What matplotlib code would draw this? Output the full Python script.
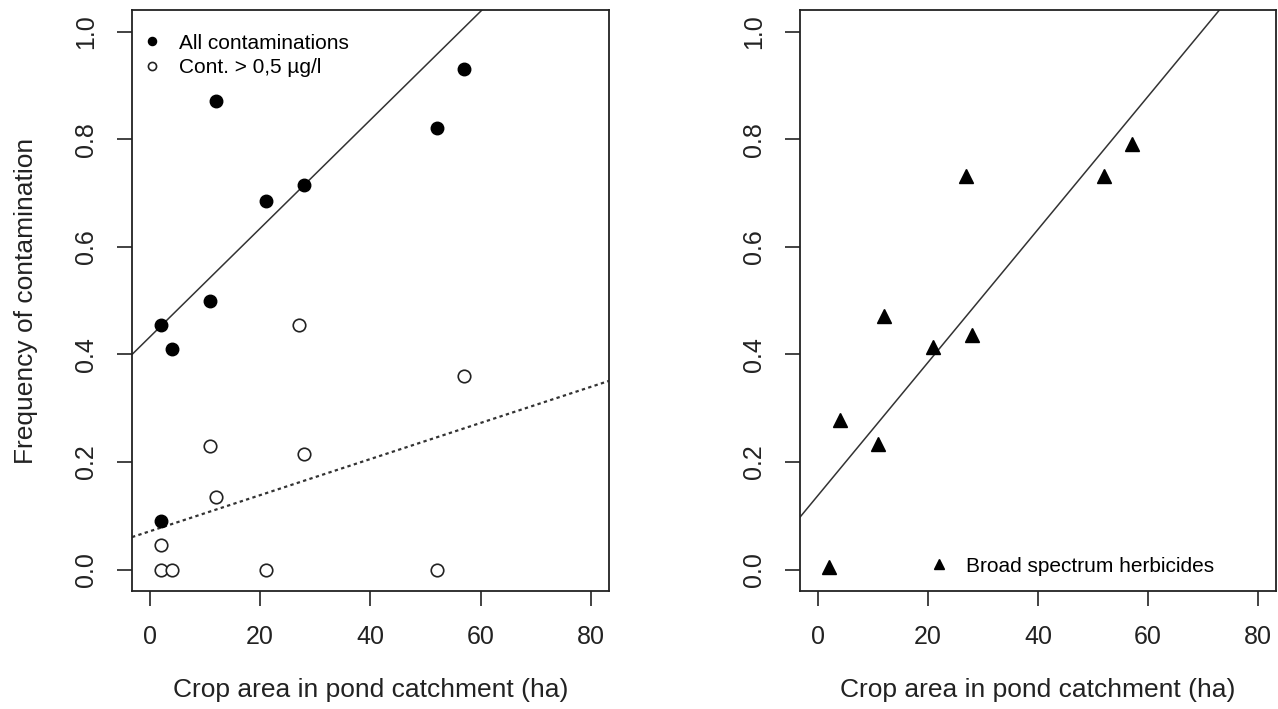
import numpy as np
import matplotlib
matplotlib.use("Agg")
import matplotlib.pyplot as plt

plt.rcParams["font.family"] = ["Liberation Sans", "DejaVu Sans"]

# Left panel: frequency of contamination per pond
area_all = [2, 4, 11, 12, 21, 28, 52, 57, 2]
freq_all = [0.455, 0.41, 0.50, 0.87, 0.685, 0.715, 0.82, 0.93, 0.09]

area_high = [27, 57, 11, 28, 12, 2, 2, 4, 21, 52]
freq_high = [0.455, 0.36, 0.23, 0.215, 0.135, 0.045, 0.0, 0.0, 0.0, 0.0]

# regression lines (intercept, slope)
fit_all = (0.432, 0.0101)
fit_high = (0.071, 0.00336)

# Right panel: broad spectrum herbicides
area_herb = [2, 4, 11, 12, 21, 27, 28, 52, 57]
freq_herb = [0.004, 0.278, 0.233, 0.472, 0.414, 0.731, 0.435, 0.731, 0.791]
fit_herb = (0.137, 0.01238)

xticks = [0, 20, 40, 60, 80]
yticks = [0.0, 0.2, 0.4, 0.6, 0.8, 1.0]
xlim = (-3.2, 83.2)
ylim = (-0.04, 1.04)

fig = plt.figure(figsize=(12.78, 7.09), dpi=100)
ax1 = fig.add_axes([0.1033, 0.1664, 0.3732, 0.8195])
ax2 = fig.add_axes([0.626, 0.1664, 0.3724, 0.8195])

TICK_FS = 18
LAB_FS = 19
LEG_FS = 15
INK = "#222222"


def style(ax):
    ax.set_xlim(*xlim)
    ax.set_ylim(*ylim)
    ax.set_xticks(xticks)
    ax.set_yticks(yticks)
    ax.set_yticklabels([f"{v:.1f}" for v in yticks])
    ax.tick_params(direction="out", length=10.5, width=1.2, labelsize=TICK_FS,
                   pad=14, color=INK, labelcolor=INK)
    for lab in ax.get_yticklabels():
        lab.set_rotation(90)
        lab.set_va("center")
    for s in ax.spines.values():
        s.set_linewidth(1.3)
        s.set_color(INK)
    ax.set_xlabel("Crop area in pond catchment (ha)", fontsize=LAB_FS, color=INK)
    ax.xaxis.label.set_va("center")
    ax.xaxis.set_label_coords(0.5, -0.170)


def abline(ax, fit, **kw):
    xs = np.array(xlim)
    ax.plot(xs, fit[0] + fit[1] * xs, **kw)


style(ax1)
abline(ax1, fit_all, color="#333333", lw=1.1)
abline(ax1, fit_high, color="#333333", lw=1.6, linestyle=(0, (1.5, 1.5)))
ax1.plot(area_all, freq_all, "o", ms=9, color="black", mec="black",
         label="All contaminations")
ax1.plot(area_high, freq_high, "o", ms=9, mfc="white", mec=INK, mew=1.2,
         label="Cont. > 0,5 µg/l")
ax1.set_ylabel("Frequency of contamination", fontsize=LAB_FS, color=INK)
ax1.yaxis.label.set_va("center")
ax1.yaxis.set_label_coords(-0.222, 0.5)
ax1.legend(loc="upper left", bbox_to_anchor=(-0.004, 0.979), frameon=False,
           fontsize=LEG_FS, markerscale=0.65, handlelength=1.0,
           handletextpad=0.8, borderpad=0.35, labelspacing=0.25,
           borderaxespad=0.2)

style(ax2)
abline(ax2, fit_herb, color="#333333", lw=1.1)
ax2.plot(area_herb, freq_herb, "^", ms=10, color="black",
         label="Broad spectrum herbicides")
ax2.legend(loc="lower left", bbox_to_anchor=(0.233, -0.004), frameon=False,
           fontsize=LEG_FS, markerscale=0.65, handlelength=1.0,
           handletextpad=0.8, borderpad=0.35)

fig.savefig("out.png", dpi=100)
